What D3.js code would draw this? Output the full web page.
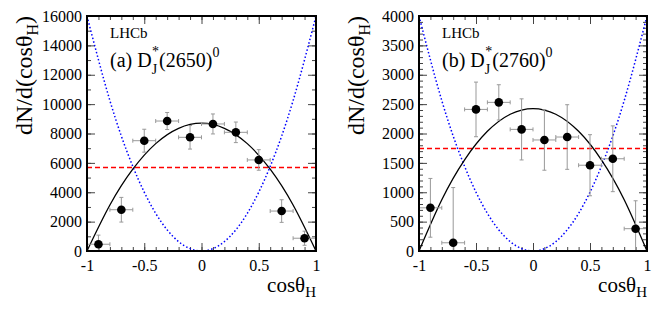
<!DOCTYPE html>
<meta charset="utf-8">
<style>

body {
  margin: 0;
  background: #fff;
}

text {
  font-family: "Liberation Serif", "Times New Roman", serif;
  fill: #000;
}

.tick line {
  stroke: #444;
}

.domain {
  display: none;
}

</style>
<svg width="664" height="315"></svg>
<script src="https://cdn.jsdelivr.net/npm/d3@7"></script>
<script>

// bin centres and half-width (same for both panels)
var binX = [-0.9, -0.7, -0.5, -0.3, -0.1, 0.1, 0.3, 0.5, 0.7, 0.9],
    binHalf = 0.1;

// (a) D_J^*(2650)^0
var yieldA = [460, 2810, 7510, 8850, 7740, 8650, 8080, 6200, 2720, 870],
    errA = [620, 840, 780, 580, 800, 680, 700, 700, 770, 480];

// (b) D_J^*(2760)^0
var yieldB = [735, 140, 2410, 2530, 2070, 1890, 1940, 1460, 1570, 380],
    errB = [500, 940, 465, 300, 520, 515, 550, 520, 560, 475];

var curveX = [-1, -0.8, -0.6, -0.4, -0.2, 0, 0.2, 0.4, 0.6, 0.8, 1];
var fitA = [0, 3130, 5570, 7310, 8350, 8700, 8350, 7310, 5570, 3130, 0],
    altA = [16000, 10240, 5760, 2560, 640, 0, 640, 2560, 5760, 10240, 16000],
    flatA = 5700;
var fitB = [0, 873, 1552, 2037, 2328, 2425, 2328, 2037, 1552, 873, 0],
    altB = [4000, 2560, 1440, 640, 160, 0, 160, 640, 1440, 2560, 4000],
    flatB = 1760;

var xTicks = [-1, -0.5, 0, 0.5, 1];
var yTicksA = [0, 2000, 4000, 6000, 8000, 10000, 12000, 14000, 16000],
    yTicksB = [0, 500, 1000, 1500, 2000, 2500, 3000, 3500, 4000];

var svg = d3.select("svg");

var plotTop = 16, plotBottom = 251;

drawPanel({
  left: 87, right: 316, ymax: 16000, yTicks: yTicksA, yMinor: 1000,
  values: yieldA, errors: errA, fit: fitA, alt: altA, flat: flatA,
  tag: "(a) D", mass: "(2650)"
});

drawPanel({
  left: 419, right: 647, ymax: 4000, yTicks: yTicksB, yMinor: 100,
  values: yieldB, errors: errB, fit: fitB, alt: altB, flat: flatB,
  tag: "(b) D", mass: "(2760)"
});

function labelStyle(s) {
  s.attr("font-size", 16)
      .attr("font-family", "Liberation Serif, serif");
}

function drawPanel(p) {
  var x = d3.scaleLinear().domain([-1, 1]).range([p.left, p.right]),
      y = d3.scaleLinear().domain([0, p.ymax]).range([plotBottom, plotTop]);

  var g = svg.append("g");

  var yMinorTicks = d3.range(0, p.ymax + 1, p.yMinor),
      xMinorTicks = d3.range(-10, 11).map(function(d) { return d / 10; });

  // ticks, pointing inward on all four sides
  g.append("g")
      .attr("transform", "translate(" + p.left + ",0)")
      .call(d3.axisLeft(y).tickValues(p.yTicks).tickSize(-8).tickPadding(5)
        .tickFormat(d3.format("d")))
      .call(labelStyle);
  g.append("g")
      .attr("transform", "translate(" + p.left + ",0)")
      .call(d3.axisLeft(y).tickValues(yMinorTicks).tickSize(-4).tickFormat(""));
  g.append("g")
      .attr("transform", "translate(" + p.right + ",0)")
      .call(d3.axisRight(y).tickValues(p.yTicks).tickSize(-8).tickFormat(""));
  g.append("g")
      .attr("transform", "translate(" + p.right + ",0)")
      .call(d3.axisRight(y).tickValues(yMinorTicks).tickSize(-4).tickFormat(""));

  g.append("g")
      .attr("transform", "translate(0," + plotBottom + ")")
      .call(d3.axisBottom(x).tickValues(xTicks).tickSize(-8).tickPadding(5)
        .tickFormat(function(d) { return d === 0 ? "0" : String(d); }))
      .call(labelStyle)
      .call(function(s) { s.selectAll("text").attr("dy", "0.95em"); });
  g.append("g")
      .attr("transform", "translate(0," + plotBottom + ")")
      .call(d3.axisBottom(x).tickValues(xMinorTicks).tickSize(-4).tickFormat(""));
  g.append("g")
      .attr("transform", "translate(0," + plotTop + ")")
      .call(d3.axisTop(x).tickValues(xTicks).tickSize(-8).tickFormat(""));
  g.append("g")
      .attr("transform", "translate(0," + plotTop + ")")
      .call(d3.axisTop(x).tickValues(xMinorTicks).tickSize(-4).tickFormat(""));

  var line = d3.line()
      .x(function(d, i) { return x(curveX[i]); })
      .y(function(d) { return y(d); })
      .curve(d3.curveNatural);

  g.append("path")
      .attr("d", line(p.alt))
      .attr("fill", "none")
      .attr("stroke", "#0000ff")
      .attr("stroke-width", 1.5)
      .attr("stroke-dasharray", "1.5,2.2");

  var yFlat = Math.round(y(p.flat)) + 0.5;
  g.append("line")
      .attr("x1", p.left).attr("x2", p.right)
      .attr("y1", yFlat).attr("y2", yFlat)
      .attr("stroke", "#ff0000")
      .attr("stroke-width", 1.4)
      .attr("stroke-dasharray", "5,3");

  g.append("path")
      .attr("d", line(p.fit))
      .attr("fill", "none")
      .attr("stroke", "#000")
      .attr("stroke-width", 1.3);

  // error bars with small end caps
  var err = g.append("g")
      .attr("stroke", "#999")
      .attr("stroke-width", 1);

  binX.forEach(function(bx, i) {
    var v = p.values[i], e = p.errors[i],
        cx = x(bx), cy = y(v),
        y0 = y(Math.max(0, v - e)), y1 = y(v + e),
        x0 = x(bx - binHalf), x1 = x(bx + binHalf);
    err.append("line").attr("x1", x0).attr("x2", x1).attr("y1", cy).attr("y2", cy);
    err.append("line").attr("x1", cx).attr("x2", cx).attr("y1", y0).attr("y2", y1);
    err.append("line").attr("x1", x0).attr("x2", x0).attr("y1", cy - 2).attr("y2", cy + 2);
    err.append("line").attr("x1", x1).attr("x2", x1).attr("y1", cy - 2).attr("y2", cy + 2);
    err.append("line").attr("x1", cx - 2).attr("x2", cx + 2).attr("y1", y1).attr("y2", y1);
    if (v - e > 0) {
      err.append("line").attr("x1", cx - 2).attr("x2", cx + 2).attr("y1", y0).attr("y2", y0);
    }
  });

  g.selectAll("circle")
      .data(p.values)
    .enter().append("circle")
      .attr("cx", function(d, i) { return x(binX[i]); })
      .attr("cy", function(d) { return y(d); })
      .attr("r", 4.3)
      .attr("fill", "#000");

  // frame
  g.append("rect")
      .attr("x", p.left).attr("y", plotTop)
      .attr("width", p.right - p.left).attr("height", plotBottom - plotTop)
      .attr("fill", "none")
      .attr("stroke", "#000")
      .attr("stroke-width", 2);

  // titles
  var yt = g.append("text")
      .attr("transform", "translate(" + (p.left - 55) + "," + plotTop + ") rotate(-90)")
      .attr("text-anchor", "end")
      .style("font-size", "24px")
      .text("dN/d(cosθ");
  yt.append("tspan").attr("dy", 6).style("font-size", "16px").text("H");
  yt.append("tspan").attr("dy", -6).text(")");

  var xt = g.append("text")
      .attr("x", p.right).attr("y", 292)
      .attr("text-anchor", "end")
      .style("font-size", "21px")
      .text("cosθ");
  xt.append("tspan").attr("dy", 5).style("font-size", "15px").text("H");

  g.append("text")
      .attr("x", p.left + 23).attr("y", 38)
      .style("font-size", "15px")
      .text("LHCb");

  var lbl = g.append("text")
      .attr("x", p.left + 23).attr("y", 67)
      .style("font-size", "20px")
      .text(p.tag);
  lbl.append("tspan").attr("dy", 7).style("font-size", "14px").text("J");
  lbl.append("tspan").attr("dx", -5).attr("dy", -18).style("font-size", "14px").text("*");
  lbl.append("tspan").attr("dy", 11).text(p.mass);
  lbl.append("tspan").attr("dy", -10).style("font-size", "14px").text("0");
}

</script>
